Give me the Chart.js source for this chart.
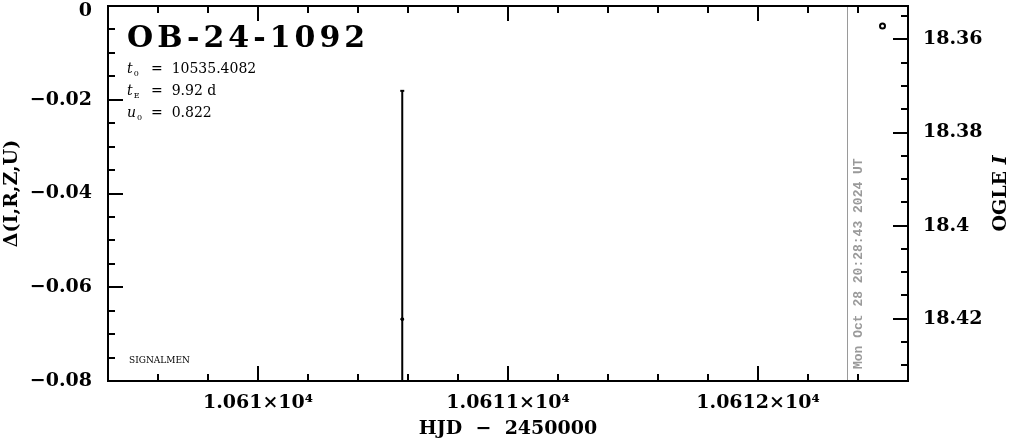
<!DOCTYPE html>
<html lang="en">
<head>
<meta charset="UTF-8">
<title>OB-24-1092</title>
<script src="https://cdn.jsdelivr.net/npm/chart.js@4.4.1/dist/chart.umd.min.js"></script>
<style>
  html, body { margin: 0; padding: 0; background: #fff; }
</style>
</head>
<body>
<canvas id="myChart" width="1011" height="439"></canvas>
<script>
// HJD - 2450000
var xMin = 10609.4, xMax = 10612.6;
var xMajor = [10610, 10611, 10612];
var xLabels = ['1.061×10⁴', '1.0611×10⁴', '1.0612×10⁴'];
var xMinorStep = 0.2;

// left axis, delta mag
var dMin = -0.08, dMax = 0;
var dMajor = [0, -0.02, -0.04, -0.06, -0.08];
var dLabels = ['0', '−0.02', '−0.04', '−0.06', '−0.08'];
var dMinorStep = 0.005;

// right axis, OGLE I (reversed)
var magMin = 18.3528, magMax = 18.4334;
var magMajor = [18.36, 18.38, 18.40, 18.42];
var magLabels = ['18.36', '18.38', '18.4', '18.42'];
var magMinorStep = 0.005;

// residual with error bar
var resX = [10610.577];
var resY = [-0.0668];
var resErr = [0.0487];

// OGLE I points
var ogleX = [10612.498];
var ogleMag = [18.3571];

// "now" marker
var nowX = 10612.358;
var stamp = 'Mon Oct 28 20:28:43 2024 UT';

var eventName = 'OB-24-1092';
var t0 = '10535.4082', tE = '9.92 d', u0 = '0.822';

var FONT = 'DejaVu Serif';

function stepValues(lo, hi, step) {
    var out = [];
    var k = Math.ceil(Math.min(lo, hi) / step - 1e-6);
    for (; k * step <= Math.max(lo, hi) + 1e-9; k++) out.push(k * step);
    return out;
}
function isMajor(v, list) {
    return list.some(function (m) { return Math.abs(m - v) < 1e-7; });
}
function noPad(s) {
    s.paddingTop = 0; s.paddingBottom = 0; s.paddingLeft = 0; s.paddingRight = 0;
}

// error bar segments
var errData = [];
var resPts = [];
for (var i = 0; i < resX.length; i++) {
    errData.push({ x: resX[i], y: resY[i] + resErr[i] });
    errData.push({ x: resX[i], y: resY[i] - resErr[i] });
    errData.push({ x: resX[i], y: null });
    resPts.push({ x: resX[i], y: resY[i] });
}
var oglePts = ogleX.map(function (x, i) { return { x: x, y: ogleMag[i] }; });

var frame = {
    id: 'frame',
    afterDatasetsDraw: function (chart) {
        var a = chart.chartArea, ctx = chart.ctx;
        var sx = chart.scales.x, sl = chart.scales.yD, sr = chart.scales.yMag;
        ctx.save();
        ctx.strokeStyle = '#000';
        ctx.lineWidth = 2;
        ctx.beginPath();
        stepValues(xMin, xMax, xMinorStep).forEach(function (v) {
            var p = Math.round(sx.getPixelForValue(v));
            var len = isMajor(v, xMajor) ? 15 : 7;
            ctx.moveTo(p, a.bottom); ctx.lineTo(p, a.bottom - len);
            ctx.moveTo(p, a.top); ctx.lineTo(p, a.top + len);
        });
        stepValues(dMin, dMax, dMinorStep).forEach(function (v) {
            var p = Math.round(sl.getPixelForValue(v));
            var len = isMajor(v, dMajor) ? 15 : 7;
            ctx.moveTo(a.left, p); ctx.lineTo(a.left + len, p);
        });
        stepValues(magMin, magMax, magMinorStep).forEach(function (v) {
            var p = Math.round(sr.getPixelForValue(v));
            var len = isMajor(v, magMajor) ? 15 : 7;
            ctx.moveTo(a.right, p); ctx.lineTo(a.right - len, p);
        });
        ctx.stroke();
        ctx.strokeRect(a.left, a.top, a.right - a.left, a.bottom - a.top);
        ctx.restore();
    }
};

function drawRuns(ctx, x, y, runs) {
    runs.forEach(function (r) {
        ctx.font = r.font;
        ctx.fillText(r.text, x, y + (r.dy || 0));
        x += ctx.measureText(r.text).width + (r.gap || 0);
    });
}

var labelsPlugin = {
    id: 'labels',
    afterDraw: function (chart) {
        var ctx = chart.ctx, a = chart.chartArea;
        var sx = chart.scales.x;
        ctx.save();
        ctx.fillStyle = '#000';
        ctx.textBaseline = 'alphabetic';
        ctx.textAlign = 'left';

        ctx.font = 'bold 30px ' + FONT;
        ctx.letterSpacing = '4px';
        ctx.fillText(eventName, 127, 47);
        ctx.letterSpacing = '0px';

        var it = 'italic 14px ' + FONT, rg = '14px ' + FONT, sub = '8px ' + FONT;
        drawRuns(ctx, 127, 73, [{ text: 't', font: it, gap: 1 }, { text: '0', font: sub, dy: 3 }]);
        drawRuns(ctx, 127, 95, [{ text: 't', font: it, gap: 1 }, { text: 'E', font: sub, dy: 3 }]);
        drawRuns(ctx, 127, 117, [{ text: 'u', font: it, gap: 1 }, { text: '0', font: sub, dy: 3 }]);
        ctx.font = rg;
        ctx.fillText('=  ' + t0, 151, 73);
        ctx.fillText('=  ' + tE, 151, 95);
        ctx.fillText('=  ' + u0, 151, 117);

        ctx.font = '9px ' + FONT;
        ctx.fillText('SIGNALMEN', 129, 363);

        // timestamp next to the now line
        var nx = sx.getPixelForValue(nowX);
        ctx.save();
        ctx.translate(nx + 14, 369);
        ctx.rotate(-Math.PI / 2);
        ctx.fillStyle = '#9a9a9a';
        ctx.font = 'bold 13px "Liberation Mono"';
        ctx.fillText(stamp, 0, 0);
        ctx.restore();

        // right axis title
        ctx.save();
        ctx.translate(1006, (a.top + a.bottom) / 2);
        ctx.rotate(-Math.PI / 2);
        ctx.font = 'bold 19px ' + FONT;
        var w1 = ctx.measureText('OGLE ').width;
        ctx.font = 'bold italic 19px ' + FONT;
        var w2 = ctx.measureText('I').width;
        drawRuns(ctx, -(w1 + w2) / 2, 0, [
            { text: 'OGLE ', font: 'bold 19px ' + FONT },
            { text: 'I', font: 'bold italic 19px ' + FONT }
        ]);
        ctx.restore();
        ctx.restore();
    }
};

var config = {
    type: 'scatter',
    data: {
        datasets: [
            {
                label: 'now',
                data: [{ x: nowX, y: dMax }, { x: nowX, y: dMin }],
                showLine: true,
                borderColor: '#9a9a9a',
                borderWidth: 1,
                pointRadius: 0,
                yAxisID: 'yD'
            },
            {
                label: 'error',
                data: errData,
                showLine: true,
                spanGaps: false,
                borderColor: '#000',
                borderWidth: 2,
                pointStyle: 'line',
                pointRadius: 2,
                pointBorderColor: '#000',
                pointBorderWidth: 2,
                yAxisID: 'yD'
            },
            {
                label: 'residual',
                data: resPts,
                pointRadius: 1.5,
                pointBackgroundColor: '#000',
                pointBorderColor: '#000',
                yAxisID: 'yD'
            },
            {
                label: 'OGLE I',
                data: oglePts,
                pointRadius: 2.5,
                pointBackgroundColor: '#fff',
                pointBorderColor: '#000',
                pointBorderWidth: 2,
                yAxisID: 'yMag'
            }
        ]
    },
    options: {
        responsive: false,
        animation: false,
        layout: { autoPadding: false, padding: { top: 6, left: 0, right: 0, bottom: 0 } },
        plugins: { legend: { display: false }, tooltip: { enabled: false } },
        scales: {
            x: {
                type: 'linear',
                min: xMin, max: xMax,
                grid: { display: false, drawTicks: false },
                border: { display: false },
                afterBuildTicks: function (s) { s.ticks = xMajor.map(function (v) { return { value: v }; }); },
                afterFit: function (s) { s.height = 58; noPad(s); },
                ticks: {
                    color: '#000',
                    padding: 11,
                    maxRotation: 0,
                    font: { family: FONT, size: 19, weight: 'bold' },
                    callback: function (v, i) { return xLabels[i]; }
                },
                title: {
                    display: true,
                    text: 'HJD  −  2450000',
                    color: '#000',
                    padding: 0,
                    font: { family: FONT, size: 19, weight: 'bold', lineHeight: 1 }
                }
            },
            yD: {
                type: 'linear',
                position: 'left',
                min: dMin, max: dMax,
                grid: { display: false, drawTicks: false },
                border: { display: false },
                afterBuildTicks: function (s) { s.ticks = dMajor.map(function (v) { return { value: v }; }); },
                afterFit: function (s) { s.width = 108; noPad(s); },
                ticks: {
                    color: '#000',
                    padding: 16,
                    // top label sits a little lower so it is not cut off
                    font: function (c) {
                        return { family: FONT, size: 19, weight: 'bold', lineHeight: c.index === 0 ? 0.55 : 1.2 };
                    },
                    callback: function (v, i) { return i === 0 ? ['', dLabels[i]] : dLabels[i]; }
                },
                title: {
                    display: true,
                    text: 'Δ(I,R,Z,U)',
                    color: '#000',
                    padding: { top: 3, bottom: 0 },
                    font: { family: FONT, size: 19, weight: 'bold', lineHeight: 1 }
                }
            },
            yMag: {
                type: 'linear',
                position: 'right',
                reverse: true,
                min: magMin, max: magMax,
                grid: { display: false, drawTicks: false },
                border: { display: false },
                afterBuildTicks: function (s) { s.ticks = magMajor.map(function (v) { return { value: v }; }); },
                afterFit: function (s) { s.width = 103; noPad(s); },
                ticks: {
                    color: '#000',
                    padding: 15,
                    font: { family: FONT, size: 19, weight: 'bold' },
                    callback: function (v, i) { return magLabels[i]; }
                }
            }
        }
    },
    plugins: [frame, labelsPlugin]
};

window.myChart = new Chart(document.getElementById('myChart').getContext('2d'), config);
</script>
</body>
</html>
